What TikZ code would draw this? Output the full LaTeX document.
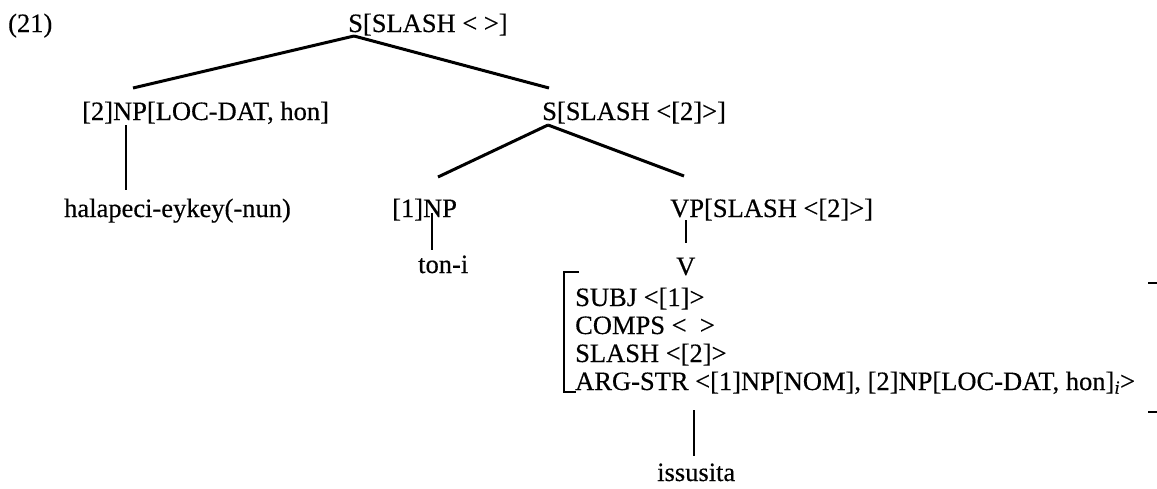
\documentclass[tikz,border=0pt]{standalone}
\usepackage{fontspec}
\setmainfont{Liberation Serif}[FakeBold=0.4]
\begin{document}
\begin{tikzpicture}[x=1pt,y=-1pt,
  lbl/.style={anchor=base west, inner sep=0pt, font=\fontsize{26.5}{28}\selectfont},
  branch/.style={line width=3pt},
  stem/.style={line width=2pt},
  brk/.style={line width=2pt}]
\useasboundingbox (0,0) rectangle (1157,488);
% labels
\node[lbl] (ex) at (8,32) {(21)};
\node[lbl] (s0) at (348,32) {S[SLASH < >]};
\node[lbl] (np2) at (82,120) {[2]NP[LOC-DAT, hon]};
\node[lbl] (s1) at (542,120) {S[SLASH <[2]>]};
\node[lbl] (hal) at (64,217) {halapeci-eykey(-nun)};
\node[lbl] (np1) at (392,217) {[1]NP};
\node[lbl] (vp) at (670,217) {VP[SLASH <[2]>]};
\node[lbl] (ton) at (418,273) {ton-i};
\node[lbl] (v) at (676,275) {V};
\node[lbl] (subj) at (575,306) {SUBJ <[1]>};
\node[lbl] (comps) at (575,334) {COMPS <\ \ >};
\node[lbl] (slash) at (575,362) {SLASH <[2]>};
\node[lbl] (arg) at (575,390) {ARG-STR <[1]NP[NOM], [2]NP[LOC-DAT, hon]\textsubscript{\textit{i}}>};
\node[lbl] (iss) at (657,481) {issusita};
% attachment points
\coordinate (s0f) at ([shift={(6,4)}]s0.base west);
\coordinate (np2t) at ([shift={(51,-32)}]np2.base west);
\coordinate (s1t) at ([shift={(7,-32)}]s1.base west);
\coordinate (np2f) at ([shift={(44,5)}]np2.base west);
\coordinate (halt) at ([shift={(62,-27)}]hal.base west);
\coordinate (s1f) at ([shift={(6,5)}]s1.base west);
\coordinate (np1t) at ([shift={(46,-40)}]np1.base west);
\coordinate (vpt) at ([shift={(14,-41)}]vp.base west);
\coordinate (np1f) at ([shift={(40,-4)}]np1.base west);
\coordinate (tont) at ([shift={(14,-23)}]ton.base west);
\coordinate (vpf) at ([shift={(16,3)}]vp.base west);
\coordinate (vt) at ([shift={(10,-32)}]v.base west);
\coordinate (argf) at ([shift={(119,20)}]arg.base west);
\coordinate (isst) at ([shift={(37,-25)}]iss.base west);
% branches
\draw[branch] (s0f) -- (np2t);
\draw[branch] (s0f) -- (s1t);
\draw[branch] (s1f) -- (np1t);
\draw[branch] (s1f) -- (vpt);
\draw[stem] (np2f) -- (halt);
\draw[stem] (np1f) -- (tont);
\draw[stem] (vpf) -- (vt);
\draw[stem] (argf) -- (isst);
% AVM brackets
\coordinate (bl1) at ([shift={(-11,-34)}]subj.base west);
\coordinate (bl2) at ([shift={(-11,2)}]arg.base west);
\draw[brk] ([shift={(15,0)}]bl1) -- (bl1) -- (bl2) -- ([shift={(12,0)}]bl2);
\coordinate (br1) at (1148,283);
\coordinate (br2) at (1148,412);
\draw[brk] (br1) -- ++(9,0);
\draw[brk] (br2) -- ++(9,0);
\end{tikzpicture}
\end{document}
